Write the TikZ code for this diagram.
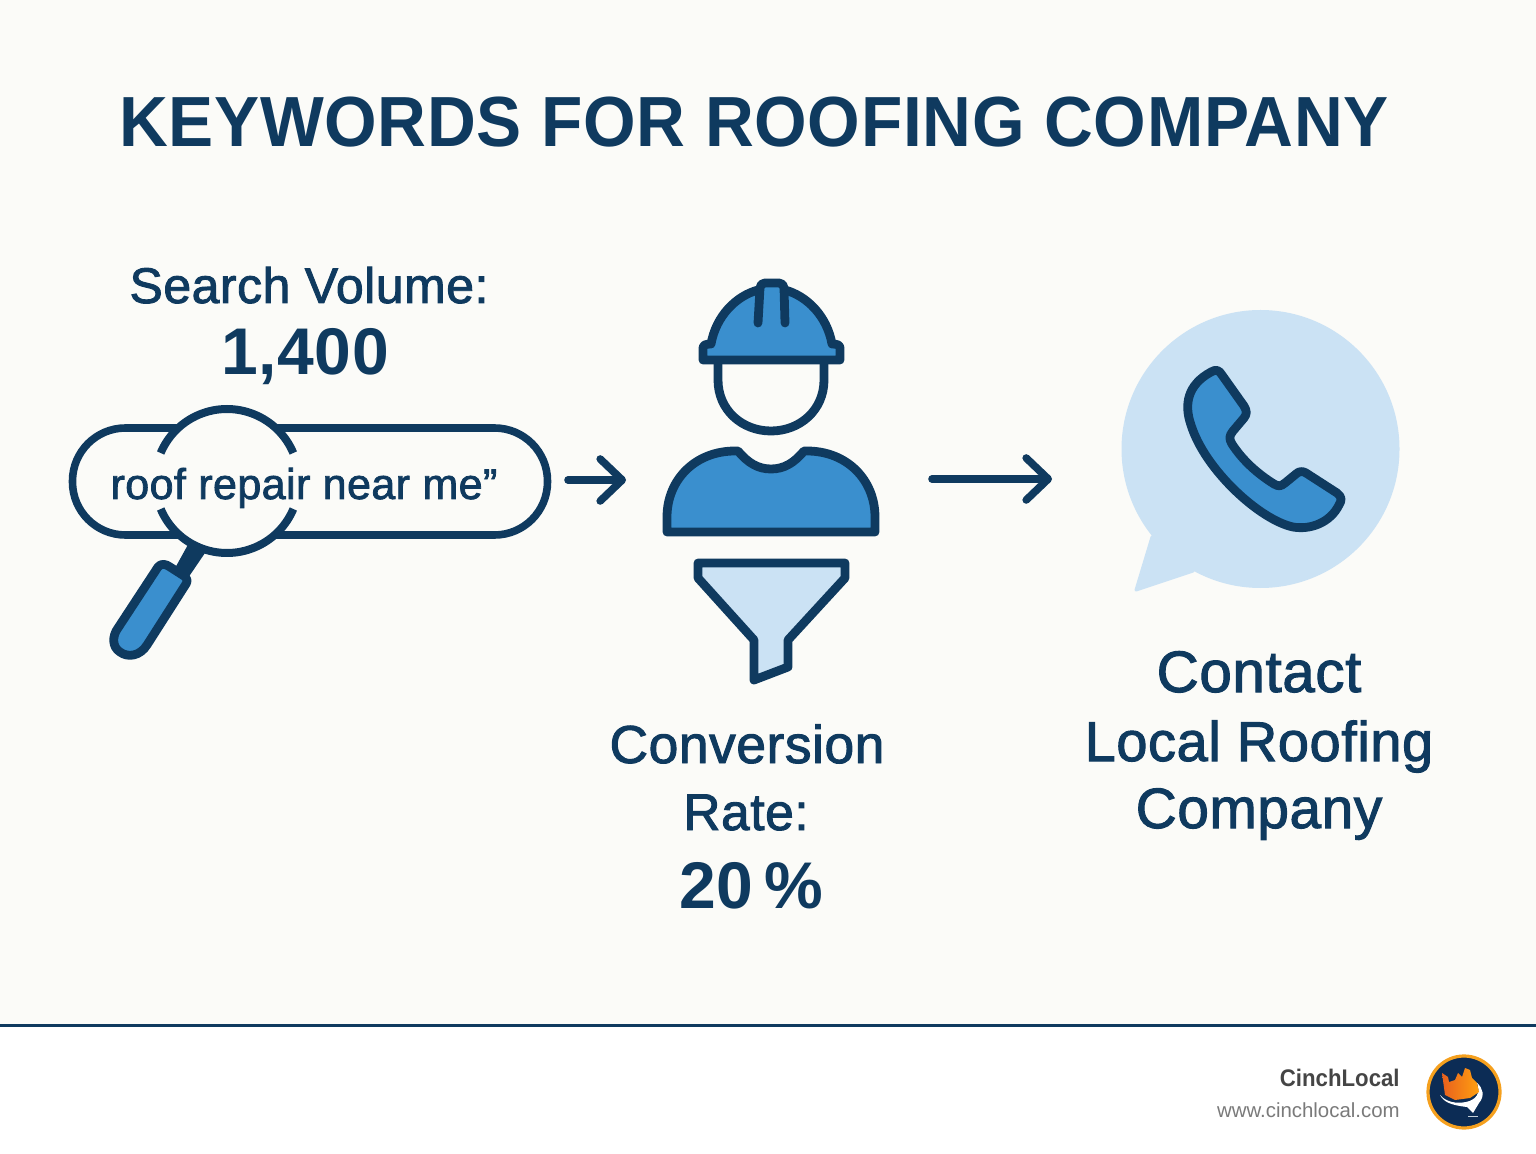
\documentclass[tikz,border=0pt]{standalone}
\usepackage{fontspec}
\setmainfont{Liberation Sans}
\newfontfamily\medf[FakeBold=1.8,LetterSpace=1]{Liberation Sans}
\newfontfamily\bldf[LetterSpace=1]{Liberation Sans Bold}
\newfontfamily\titlef[FakeStretch=0.952,LetterSpace=1]{Liberation Sans Bold}
\newfontfamily\brandf[FakeStretch=0.925]{Liberation Sans Bold}
\newfontfamily\footr{Liberation Sans}
\usetikzlibrary{arrows.meta}
\definecolor{navy}{HTML}{0F3A5F}
\definecolor{midblue}{HTML}{3A8FCE}
\definecolor{pale}{HTML}{CBE2F4}
\definecolor{paper}{HTML}{FBFBF8}
\definecolor{logonavy}{HTML}{0C2C55}
\definecolor{logoring}{HTML}{F5A01E}
\definecolor{logoleft}{HTML}{E8601E}
\definecolor{logoright}{HTML}{FFA010}
\tikzset{
  icon/.style={draw=navy,line width=4.4pt,line join=round,line cap=round},
  lbl/.style={text=navy,anchor=base,inner sep=0pt,outer sep=0pt},
  flow/.style={draw=navy,line width=3.8pt,line cap=round,-{Straight Barb[length=11pt,width=21pt,round]}},
}
\begin{document}
\begin{tikzpicture}[x=0.5pt,y=-0.5pt]
\useasboundingbox (0,0) rectangle (1536,1154);
\fill[white] (0,0) rectangle (1536,1154);
\fill[paper] (0,0) rectangle (1536,1025);
\fill[navy] (0,1024) rectangle (1536,1027);
% title
\node[lbl,font=\fontsize{35.5}{40}\selectfont\titlef] (title) at (754,147) {KEYWORDS FOR ROOFING COMPANY};
% search
\node[lbl,font=\fontsize{25}{30}\selectfont\medf] (vol) at (309,303) {Search Volume:};
\node[lbl,font=\fontsize{33}{36}\selectfont\bldf] (num) at (305,375) {1,400};
\node[draw=navy,line width=3.8pt,rounded corners=26.5pt,minimum width=237.5pt,minimum height=53.5pt,inner sep=0pt,anchor=center] (pill) at (310,481.5) {};
\fill[navy] (190,541) -- (207,550) -- (188,578) -- (174,570) -- cycle;
\fill[paper] (227,481) circle[radius=36pt];
\draw[icon,line width=4pt,line cap=butt] (293.3,453) arc[start angle=22.9,end angle=157.1,radius=36pt];
\draw[icon,line width=4pt,line cap=butt] (160.7,509) arc[start angle=202.9,end angle=337.1,radius=36pt];
\draw[icon,fill=midblue] (170,567) -- (184,576) .. controls (187,578) and (188,581) .. (186,584)
  -- (147,645) .. controls (140,656) and (128,658) .. (120,652) .. controls (112,647) and (112,636) .. (118,628) -- (158,567) .. controls (161,563) and (166,564) .. (170,567) -- cycle;
\node[lbl,font=\fontsize{21.5}{26}\selectfont\medf] (query) at (304,499) {roof repair near me”};
\coordinate (a1s) at (568,480);
\coordinate (a1e) at (626,480);
\draw[flow] (a1s) -- (a1e);
% worker
\draw[icon,fill=midblue] (703,360) -- (703,348) .. controls (703,345) and (706,344) .. (711,344)
  .. controls (716,316) and (736,296) .. (758,290) -- (785,290)
  .. controls (807,296) and (827,316) .. (832,344)
  .. controls (837,344) and (840,345) .. (840,348) -- (840,360) -- cycle;
\draw[icon,fill=midblue] (758,323) -- (760,288) .. controls (760,285) and (762,283) .. (765,283) -- (779,283) .. controls (782,283) and (784,285) .. (784,288) -- (785,323);
\draw[icon] (718,364) -- (718,380) .. controls (718,410) and (742,431) .. (771,431) .. controls (800,431) and (824,410) .. (824,380) -- (824,364);
\draw[icon,fill=midblue] (667,532) -- (667,517) .. controls (667,480) and (695,451) .. (735,451) -- (738,451)
  .. controls (748,463) and (758,469) .. (771,469) .. controls (784,469) and (794,463) .. (804,451)
  -- (807,451) .. controls (847,451) and (875,480) .. (875,517) -- (875,532) -- cycle;
\draw[icon,fill=pale] (698,563) -- (845,563) -- (845,578) -- (788,640) -- (788,667) -- (754,680) -- (754,640) -- (698,578) -- cycle;
\node[lbl,font=\fontsize{26.7}{30}\selectfont\medf] (conv) at (747,763) {Conversion};
\node[lbl,font=\fontsize{25.8}{30}\selectfont\medf] (rate) at (746,830) {Rate:};
\node[lbl,font=\fontsize{33}{36}\selectfont\bldf] (pct) at (751,908) {20\,\%};
\coordinate (a2s) at (932,479);
\coordinate (a2e) at (1052,479);
\draw[flow] (a2s) -- (a2e);
% bubble
\fill[pale] (1260.5,449) circle[radius=69.5pt];
\fill[pale,draw=pale,line width=1.5pt,line join=round] (1152,537) -- (1136,590) -- (1193,571) -- (1230,500) -- cycle;
\draw[icon,fill=midblue] (1222,375) -- (1244,406) .. controls (1247,411) and (1247,414) .. (1244,418) -- (1233,431)
  .. controls (1229,436) and (1229,439) .. (1232,444) .. controls (1243,461) and (1258,474) .. (1274,484)
  .. controls (1279,487) and (1281,486) .. (1285,483) -- (1296,474) .. controls (1299,471) and (1303,471) .. (1306,473)
  -- (1337,493) .. controls (1342,497) and (1342,500) .. (1339,505) .. controls (1330,523) and (1310,530) .. (1293,527)
  .. controls (1260,520) and (1205,470) .. (1191,425) .. controls (1184,405) and (1187,385) .. (1211,372)
  .. controls (1216,369) and (1219,370) .. (1222,375) -- cycle;
\node[lbl,font=\fontsize{29.2}{30}\selectfont\medf] (c1) at (1259,692) {Contact};
\node[lbl,font=\fontsize{28}{30}\selectfont\medf] (c2) at (1259,761) {Local Roofing};
\node[lbl,font=\fontsize{28.4}{30}\selectfont\medf] (c3) at (1259,828) {Company};
% footer
\node[text=black!73,anchor=base east,inner sep=0pt,font=\fontsize{12}{14}\selectfont\brandf] (brand) at (1400,1086) {CinchLocal};
\node[text=black!52,anchor=base east,inner sep=0pt,font=\fontsize{10.2}{13}\selectfont\footr] (site) at (1400,1117) {www.cinchlocal.com};
% logo
\fill[logonavy,draw=logoring,line width=1.6pt] (1464,1092) circle[radius=18pt];
\fill[white] (1440,1095) .. controls (1444,1102) and (1450,1105) .. (1467,1107) -- (1473,1113) -- (1479,1103) .. controls (1485,1096) and (1483,1088) .. (1477,1083)
  .. controls (1481,1093) and (1476,1100) .. (1466,1102) .. controls (1456,1104) and (1446,1102) .. (1440,1095) -- cycle;
\path[left color=logoleft,right color=logoright]
  (1442,1073) -- (1448,1077) -- (1449,1082) -- (1455,1080) -- (1458,1073) -- (1462,1077) -- (1465,1068) -- (1470,1070) -- (1472,1078) -- (1477,1083) -- (1479,1092) -- (1470,1098) -- (1455,1100) -- (1445,1095) -- cycle;
\fill[white!75!navy] (1468,1115.5) rectangle (1478,1116.5);
\end{tikzpicture}
\end{document}
